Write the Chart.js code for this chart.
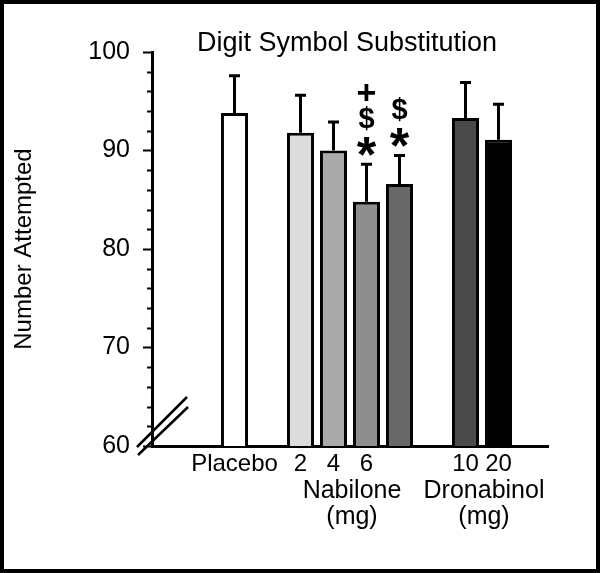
<!DOCTYPE html>
<html>
<head>
<meta charset="utf-8">
<script src="https://cdn.jsdelivr.net/npm/chart.js@4/dist/chart.umd.min.js"></script>
<style>
  html, body { margin: 0; padding: 0; background: #fff; }
  .frame { width: 600px; height: 573px; box-sizing: border-box; border: 4px solid #000; background: #fff; }
  .frame canvas { display: block; }
</style>
</head>
<body>
<div class="frame"><canvas id="dsstChart" width="592" height="565"></canvas></div>
<script>
// Slots along the x axis (empty strings are spacer slots, the 5th nabilone bar has no label)
const slotLabels = ['', '', 'Placebo', '', '2', '4', '6', '', '', '10', '20', ''];
const means      = [null, null, 93.8, null, 91.8, 90.0, 84.8, 86.6, null, 93.3, 91.1, null];
const sems       = [null, null, 3.8,  null, 3.8,  2.9,  3.8,  2.9,  null, 3.6,  3.6,  null];
const barColors  = ['#fff', '#fff', '#ffffff', '#fff', '#dcdcdc', '#aaaaaa', '#8e8e8e', '#686868', '#fff', '#4a4a4a', '#000000', '#fff'];
// significance marks, bottom to top
const marks      = [null, null, null, null, null, null, ['*', '$', '+'], ['*', '$'], null, null, null, null];
const groupNames = [['Nabilone', '(mg)'], ['Dronabinol', '(mg)']];
const groupSlots = [[4, 7], [9, 10]];
const yMin = 60, yMax = 100, yMajor = 10, yMinor = 2;

const FONT = "'Liberation Sans', Arial, sans-serif";
const markFonts = { '*': 'bold 50px', '$': 'bold 29px', '+': 'bold 34px' };

const extrasPlugin = {
    id: 'extras',
    afterDatasetsDraw(chart) {
        const ctx = chart.ctx;
        const y = chart.scales.y;
        const meta = chart.getDatasetMeta(0);
        ctx.save();
        ctx.strokeStyle = '#000';
        ctx.lineWidth = 3;
        meta.data.forEach((bar, i) => {
            if (means[i] == null) return;
            const top = y.getPixelForValue(means[i] + sems[i]);
            ctx.beginPath();
            ctx.moveTo(bar.x, bar.y);
            ctx.lineTo(bar.x, top);
            ctx.moveTo(bar.x - 5.5, top);
            ctx.lineTo(bar.x + 5.5, top);
            ctx.stroke();

            // significance symbols stacked above the error bar
            if (!marks[i]) return;
            const offsets = [18, 46, 72];
            ctx.fillStyle = '#000';
            ctx.textAlign = 'center';
            ctx.textBaseline = 'alphabetic';
            marks[i].forEach((m, k) => {
                ctx.font = `${markFonts[m]} ${FONT}`;
                const mt = ctx.measureText(m);
                const cy = top - offsets[k];
                ctx.fillText(m, bar.x, cy + (mt.actualBoundingBoxAscent - mt.actualBoundingBoxDescent) / 2);
            });
        });
        ctx.restore();
    },
    afterDraw(chart) {
        const ctx = chart.ctx;
        const area = chart.chartArea;
        const x = chart.scales.x;
        const y = chart.scales.y;
        ctx.save();

        // minor ticks
        ctx.strokeStyle = '#000';
        ctx.lineWidth = 2;
        for (let v = yMin + yMinor; v < yMax; v += yMinor) {
            if (v % yMajor === 0) continue;
            const py = Math.round(y.getPixelForValue(v)) + 0.5;
            ctx.beginPath();
            ctx.moveTo(area.left - 5, py);
            ctx.lineTo(area.left, py);
            ctx.stroke();
        }

        // axis break marks
        ctx.lineWidth = 2.5;
        ctx.beginPath();
        ctx.moveTo(area.left - 15, area.bottom + 1);
        ctx.lineTo(area.left + 35, area.bottom - 49);
        ctx.moveTo(area.left - 14, area.bottom + 9);
        ctx.lineTo(area.left + 36, area.bottom - 39);
        ctx.stroke();

        // title
        ctx.fillStyle = '#000';
        ctx.textAlign = 'center';
        ctx.textBaseline = 'alphabetic';
        ctx.font = `27px ${FONT}`;
        ctx.fillText('Digit Symbol Substitution', 343, 47);

        // drug group labels under the dose ticks
        ctx.font = `25px ${FONT}`;
        groupNames.forEach((lines, g) => {
            const [a, b] = groupSlots[g];
            const cx = (x.getPixelForValue(a) + x.getPixelForValue(b)) / 2 + 2;
            lines.forEach((t, k) => ctx.fillText(t, cx, area.bottom + 52 + k * 26));
        });
        ctx.restore();
    }
};

new Chart(document.getElementById('dsstChart'), {
    type: 'bar',
    data: {
        labels: slotLabels,
        datasets: [{
            data: means,
            backgroundColor: barColors,
            borderColor: '#000',
            borderWidth: 3,
            barPercentage: 0.82,
            categoryPercentage: 1
        }]
    },
    options: {
        responsive: false,
        animation: false,
        layout: { padding: { top: 48, right: 48, bottom: 0, left: 0 } },
        plugins: {
            legend: { display: false },
            title: { display: false },
            tooltip: { enabled: false }
        },
        scales: {
            x: {
                grid: { display: false, drawTicks: false },
                border: { display: true, color: '#000', width: 3 },
                ticks: {
                    color: '#000',
                    font: { family: FONT, size: 24 },
                    padding: 4,
                    maxRotation: 0,
                    autoSkip: false
                },
                afterFit(scale) { scale.height = 123; }
            },
            y: {
                min: yMin,
                max: yMax,
                grid: { drawOnChartArea: false, drawTicks: true, tickLength: 9, tickWidth: 2, tickColor: '#000' },
                border: { display: true, color: '#000', width: 3 },
                ticks: {
                    stepSize: yMajor,
                    color: '#000',
                    font: { family: FONT, size: 25 },
                    padding: 13
                },
                title: {
                    display: true,
                    text: 'Number Attempted',
                    color: '#000',
                    font: { family: FONT, size: 24 },
                    padding: { top: 6, bottom: 0 }
                },
                afterFit(scale) { scale.width = 148; }
            }
        }
    },
    plugins: [extrasPlugin]
});
</script>
</body>
</html>
